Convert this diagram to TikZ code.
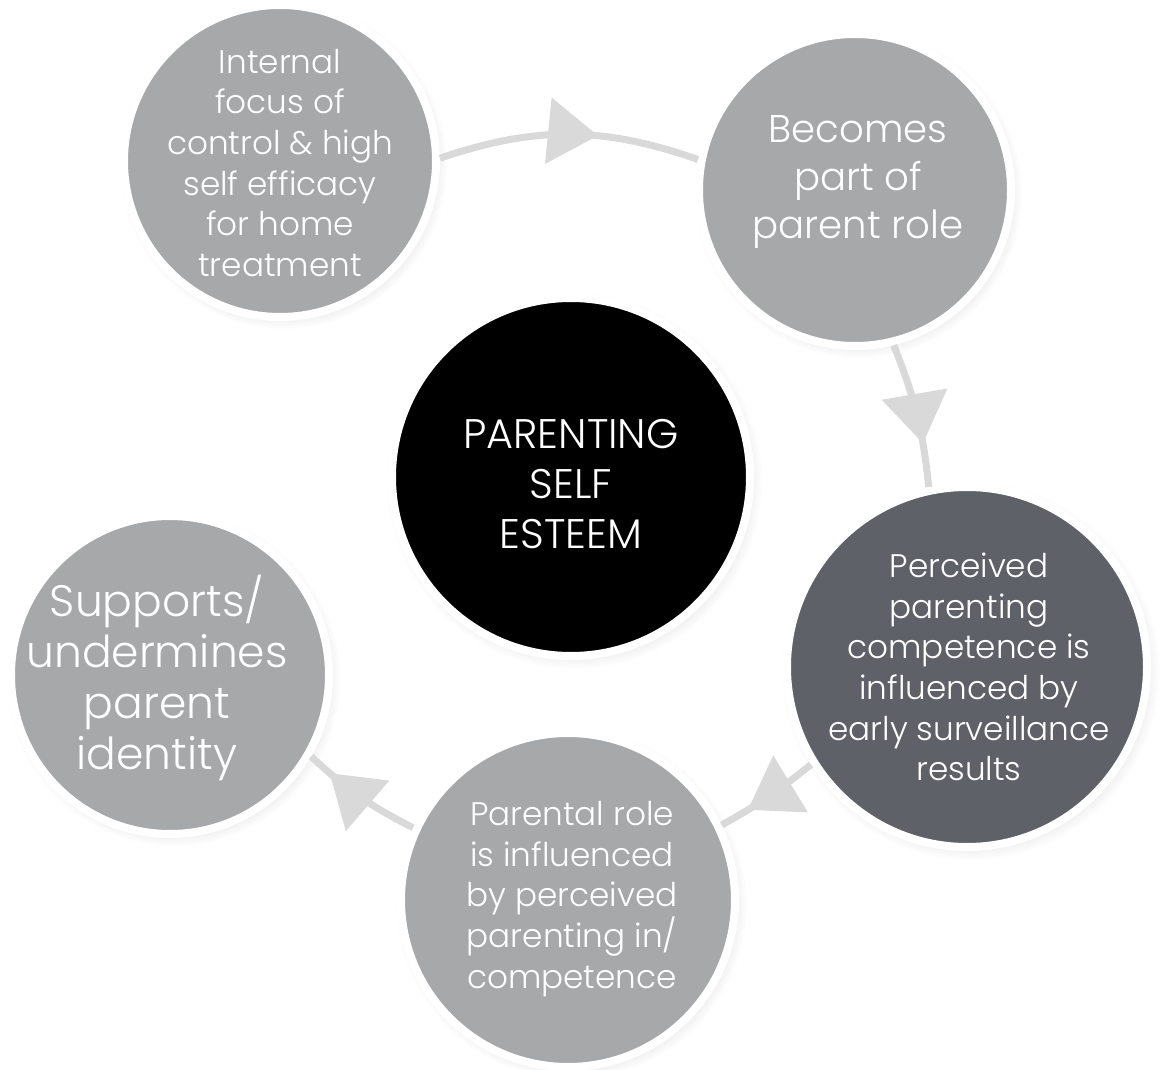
\documentclass[tikz,border=0pt]{standalone}
\usepackage{fontspec}
\setmainfont{Poppins}[UprightFont={* Light}]
\usetikzlibrary{shadows,arrows.meta,decorations.markings}
\definecolor{circgray}{HTML}{A7A8AA}
\definecolor{circdark}{HTML}{5E6168}
\definecolor{arrowgray}{HTML}{D9D9D9}
\tikzset{
  bubble/.style={circle, fill=circgray, draw=white, line width=6pt,
    inner sep=0pt,
    circular drop shadow={shadow xshift=2.5pt, shadow yshift=-3pt, opacity=0.25, shadow scale=1.05}},
  label text/.style={text=white, align=center, inner sep=0pt},
  flow/.style={draw=arrowgray, line width=5.25pt, postaction={decorate},
    decoration={markings, mark=at position #1 with {\arrow[arrowgray]{Triangle[length=37.5pt,width=48.75pt]}}}},
  fsA/.style={font=\fontsize{24.5pt}{30.5pt}\selectfont},
  fsB/.style={font=\fontsize{29pt}{36pt}\selectfont},
  fsC/.style={font=\fontsize{31pt}{37.5pt}\selectfont},
  fsD/.style={font=\fontsize{33pt}{38.3pt}\selectfont},
}
\begin{document}
\begin{tikzpicture}[x=0.75pt,y=-0.75pt]
\useasboundingbox (0,0) rectangle (1161,1070);

\node[bubble, minimum size=234pt] (tl) at (280,161) {};
\node[bubble, minimum size=234pt] (tr) at (855,190) {};
\node[bubble, fill=black, minimum size=268.5pt] (ce) at (571,477) {};
\node[bubble, fill=circdark, minimum size=270pt] (rd) at (967,667) {};
\node[bubble, minimum size=238.5pt] (lf) at (170,675) {};
\node[bubble, minimum size=250.5pt] (bt) at (568,900) {};

\node[label text, fsA] (tl-t) at (280,163)
  {Internal\\focus of\\control \& high\\self efficacy\\for home\\treatment};
\node[label text, fsB] (tr-t) at (858,182)
  {Becomes\\part of\\parent role};
\node[label text, fsC] (ce-t) at (571,484)
  {PARENTING\\SELF\\ESTEEM};
\node[label text, fsA] (rd-t) at (969,667)
  {Perceived\\parenting\\competence is\\influenced by\\early surveillance\\results};
\node[label text, fsD] (lf-t) at (157,678)
  {Supports/\\undermines\\parent\\identity};
\node[label text, fsA] (bt-t) at (572,899)
  {Parental role\\is influenced\\by perceived\\parenting in/\\competence};

\draw[flow=0.61] (tl.1.4) to[bend left=19] (tr.169.4);
\draw[flow=0.70] (tr.-76.5) to[bend left=8] (rd.102.8);
\draw[flow=0.72] (rd.212.5) to[bend left=5] (bt.26);
\draw[flow=0.80] (bt.155) to[bend left=8] (lf.-30.7);
\end{tikzpicture}
\end{document}
